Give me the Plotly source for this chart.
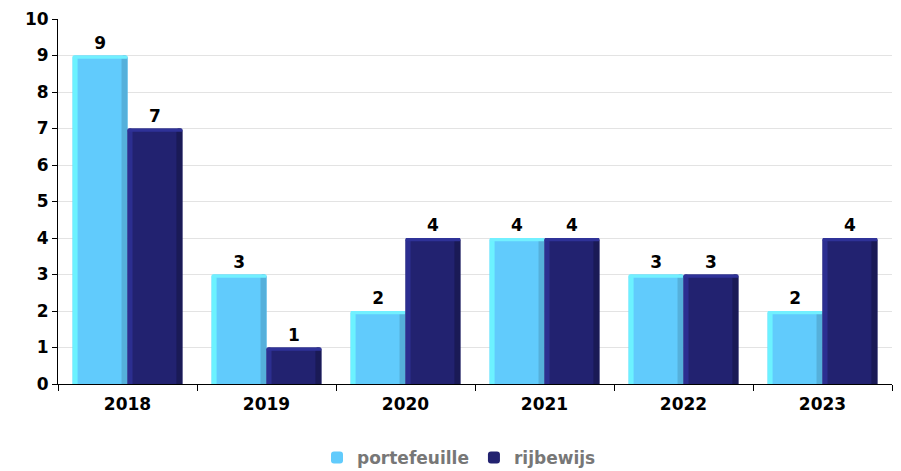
import plotly.graph_objects as go

years = ["2018", "2019", "2020", "2021", "2022", "2023"]
portefeuille = [9, 3, 2, 4, 3, 2]
rijbewijs = [7, 1, 4, 4, 3, 4]
y_ticks = list(range(0, 11))

BAR_W = 0.395
EDGE_L = 0.036
EDGE_R = 0.043
CAP_H = 0.09

FONT = dict(family="DejaVu Sans", size=17, color="#000000", weight="bold")

series = [
    # name, values, offset, main, left highlight, right shade, top cap
    ("portefeuille", portefeuille, -BAR_W, "#61cbfc", "#6cf2ff", "#55b0db", "#72f0ff"),
    ("rijbewijs", rijbewijs, 0.0, "#222270", "#2c2e90", "#1a1a56", "#2f3298"),
]

fig = go.Figure()

for name, vals, off, c_main, c_left, c_right, c_cap in series:
    # main body of each bar, with its value printed above
    fig.add_trace(go.Bar(
        x=years, y=vals, name=name, width=BAR_W, offset=off,
        marker=dict(color=c_main, line=dict(width=0), cornerradius=3),
        text=[str(v) for v in vals], textposition="outside",
        textfont=FONT, cliponaxis=False, hoverinfo="skip",
    ))
    # light strip on the left side for a bevelled look
    fig.add_trace(go.Bar(
        x=years, y=vals, width=EDGE_L, offset=off, showlegend=False,
        marker=dict(color=c_left, line=dict(width=0), cornerradius=2),
        hoverinfo="skip",
    ))
    # darker strip on the right side
    fig.add_trace(go.Bar(
        x=years, y=vals, width=EDGE_R, offset=off + BAR_W - EDGE_R, showlegend=False,
        marker=dict(color=c_right, line=dict(width=0), cornerradius=2),
        hoverinfo="skip",
    ))
    # highlighted cap along the top edge
    fig.add_trace(go.Bar(
        x=years, y=[CAP_H] * len(vals), base=[v - CAP_H for v in vals],
        width=BAR_W, offset=off, showlegend=False,
        marker=dict(color=c_cap, line=dict(width=0), cornerradius=3),
        hoverinfo="skip",
    ))

fig.update_layout(
    width=901, height=471,
    margin=dict(l=58, r=9, t=19, b=87, autoexpand=False),
    barmode="overlay",
    plot_bgcolor="#ffffff", paper_bgcolor="#ffffff",
    font=FONT,
    showlegend=True,
    legend=dict(
        orientation="h",
        xref="container", x=459 / 901, xanchor="center",
        yref="container", y=1 - 458 / 471, yanchor="middle",
        font=dict(family="DejaVu Sans", size=17, color="#777777", weight="bold"),
        traceorder="normal", itemsizing="constant",
    ),
    xaxis=dict(
        type="category", range=[-0.5, 5.5],
        showline=True, linecolor="#000000", linewidth=1,
        ticks="outside", tickson="boundaries", ticklen=6, tickcolor="#000000",
        ticklabelstandoff=5,
        tickfont=FONT, showgrid=False, fixedrange=True,
    ),
    yaxis=dict(
        range=[0, 10], tickvals=y_ticks,
        showline=True, linecolor="#000000", linewidth=1,
        ticks="outside", ticklen=5, tickcolor="#000000",
        tickfont=FONT, showgrid=True, gridcolor="#e3e3e3", gridwidth=1,
        zeroline=False, fixedrange=True,
    ),
)

fig.write_html("out.html")
